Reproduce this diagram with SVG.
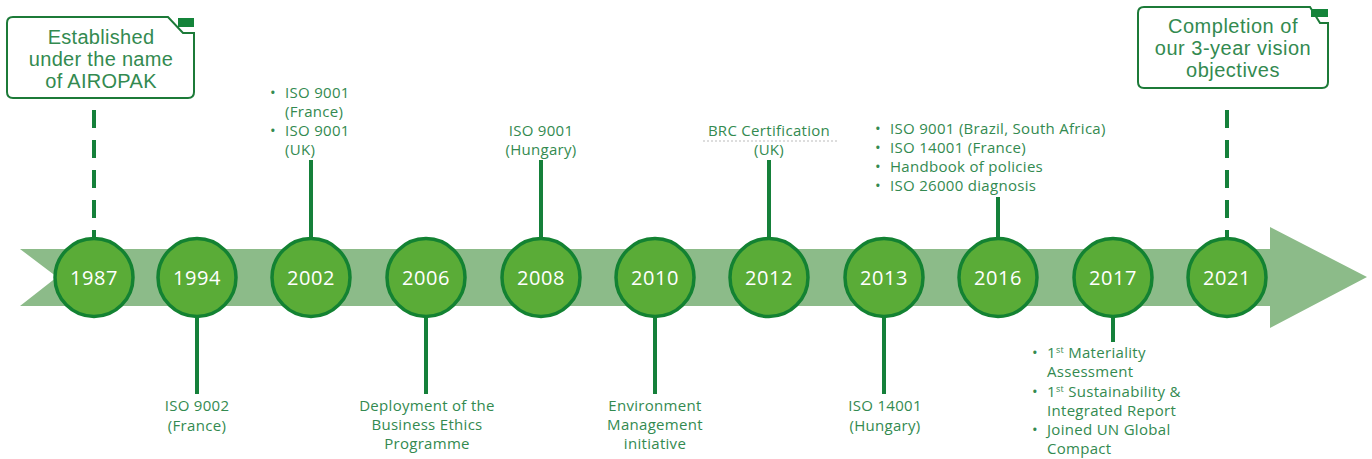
<svg xmlns="http://www.w3.org/2000/svg" width="1372" height="459" viewBox="0 0 1372 459">
<style>
.bg{fill:#ffffff}
.band{fill:#8cbb89}
.yr circle{fill:#5aac37;stroke:#138232;stroke-width:3.5}
.yr text{fill:#ffffff;font-family:"Open Sans","Noto Sans",sans-serif;font-size:20px;text-anchor:middle;letter-spacing:0.6px}
.lbl{fill:#338a50;font-family:"Open Sans","Noto Sans",sans-serif;font-size:15px;letter-spacing:0.3px}
.c{text-anchor:middle}
.box{fill:#ffffff;stroke:#1c7a38;stroke-width:2}
.tab{fill:#14843a}
.big{fill:#338a50;font-family:"Liberation Sans",Arial,sans-serif;font-size:20px;letter-spacing:0.3px;text-anchor:middle}
.big2{letter-spacing:0.5px}
.con line{stroke:#15803a;stroke-width:4}
.con .dash{stroke-dasharray:18 12}
.sup{font-size:9px}
</style>
<rect class="bg" x="0" y="0" width="1372" height="459"/>
<path id="arrow" class="band" d="M20,249 L1270,249 L1270,227 L1367,277 L1270,328 L1270,306 L20,306 L57,277 Z"/>
<g id="connectors" class="con">
<line class="dash" x1="94" y1="110" x2="94" y2="239"/>
<line x1="197" y1="316" x2="197" y2="394"/>
<line x1="311" y1="160" x2="311" y2="239"/>
<line x1="426" y1="316" x2="426" y2="394"/>
<line x1="541" y1="160" x2="541" y2="239"/>
<line x1="655" y1="316" x2="655" y2="394"/>
<line x1="769" y1="160" x2="769" y2="239"/>
<line x1="884" y1="316" x2="884" y2="394"/>
<line x1="998" y1="197" x2="998" y2="239"/>
<line x1="1113" y1="316" x2="1113" y2="342"/>
<line class="dash" x1="1227" y1="110" x2="1227" y2="239"/>
</g>
<g id="n1987" class="yr"><circle cx="94" cy="277.5" r="39"/><text x="94" y="285">1987</text></g>
<g id="n1994" class="yr"><circle cx="197" cy="277.5" r="39"/><text x="197" y="285">1994</text></g>
<g id="n2002" class="yr"><circle cx="311" cy="277.5" r="39"/><text x="311" y="285">2002</text></g>
<g id="n2006" class="yr"><circle cx="426" cy="277.5" r="39"/><text x="426" y="285">2006</text></g>
<g id="n2008" class="yr"><circle cx="541" cy="277.5" r="39"/><text x="541" y="285">2008</text></g>
<g id="n2010" class="yr"><circle cx="655" cy="277.5" r="39"/><text x="655" y="285">2010</text></g>
<g id="n2012" class="yr"><circle cx="769" cy="277.5" r="39"/><text x="769" y="285">2012</text></g>
<g id="n2013" class="yr"><circle cx="884" cy="277.5" r="39"/><text x="884" y="285">2013</text></g>
<g id="n2016" class="yr"><circle cx="998" cy="277.5" r="39"/><text x="998" y="285">2016</text></g>
<g id="n2017" class="yr"><circle cx="1113" cy="277.5" r="39"/><text x="1113" y="285">2017</text></g>
<g id="n2021" class="yr"><circle cx="1227" cy="277.5" r="39"/><text x="1227" y="285">2021</text></g>

<g id="box1987">
<path class="box" d="M13,17 L168,17 L183,33 L194,33 L194,92 Q194,98 188,98 L13,98 Q7,98 7,92 L7,23 Q7,17 13,17 Z"/>
<rect class="tab" x="178" y="18" width="16" height="9"/>
<text class="big"><tspan x="101" y="44">Established</tspan><tspan x="101" y="66">under the name</tspan><tspan x="101" y="88">of AIROPAK</tspan></text>
</g>
<g id="box2021">
<path class="box" d="M1144,7 L1310,7 L1320,23 L1328,23 L1328,82 Q1328,88 1322,88 L1144,88 Q1138,88 1138,82 L1138,13 Q1138,7 1144,7 Z"/>
<rect class="tab" x="1311" y="9" width="17" height="8"/>
<text class="big big2"><tspan x="1233" y="33">Completion of</tspan><tspan x="1233" y="55">our 3-year vision</tspan><tspan x="1233" y="77">objectives</tspan></text>
</g>

<g id="l2002" class="lbl">
<text><tspan x="270" y="98">•</tspan><tspan x="285" y="98">ISO 9001</tspan></text>
<text x="285" y="117">(France)</text>
<text><tspan x="270" y="136">•</tspan><tspan x="285" y="136">ISO 9001</tspan></text>
<text x="285" y="155">(UK)</text>
</g>
<g id="l2008" class="lbl c">
<text x="541" y="136">ISO 9001</text>
<text x="541" y="155">(Hungary)</text>
</g>
<g id="l2012" class="lbl c">
<text x="769" y="136">BRC Certification</text>
<line x1="703" y1="141" x2="837" y2="141" stroke="#bbbbbb" stroke-width="1" stroke-dasharray="2 2"/>
<text x="769" y="155">(UK)</text>
</g>
<g id="l2016" class="lbl">
<text><tspan x="875" y="134">•</tspan><tspan x="890" y="134">ISO 9001 (Brazil, South Africa)</tspan></text>
<text><tspan x="875" y="153">•</tspan><tspan x="890" y="153">ISO 14001 (France)</tspan></text>
<text><tspan x="875" y="172">•</tspan><tspan x="890" y="172">Handbook of policies</tspan></text>
<text><tspan x="875" y="191">•</tspan><tspan x="890" y="191">ISO 26000 diagnosis</tspan></text>
</g>
<g id="l1994" class="lbl c">
<text x="197" y="411">ISO 9002</text>
<text x="197" y="431">(France)</text>
</g>
<g id="l2006" class="lbl c">
<text x="427" y="411">Deployment of the</text>
<text x="427" y="430">Business Ethics</text>
<text x="427" y="449">Programme</text>
</g>
<g id="l2010" class="lbl c">
<text x="655" y="411">Environment</text>
<text x="655" y="430">Management</text>
<text x="655" y="449">initiative</text>
</g>
<g id="l2013" class="lbl c">
<text x="885" y="411">ISO 14001</text>
<text x="885" y="431">(Hungary)</text>
</g>
<g id="l2017" class="lbl">
<text><tspan x="1032" y="358">•</tspan><tspan x="1047" y="358">1<tspan class="sup" dy="-5">st</tspan><tspan dy="5"> Materiality</tspan></tspan></text>
<text x="1047" y="377">Assessment</text>
<text><tspan x="1032" y="397">•</tspan><tspan x="1047" y="397">1<tspan class="sup" dy="-5">st</tspan><tspan dy="5"> Sustainability &amp;</tspan></tspan></text>
<text x="1047" y="416">Integrated Report</text>
<text><tspan x="1032" y="435">•</tspan><tspan x="1047" y="435">Joined UN Global</tspan></text>
<text x="1047" y="454">Compact</text>
</g>
</svg>
